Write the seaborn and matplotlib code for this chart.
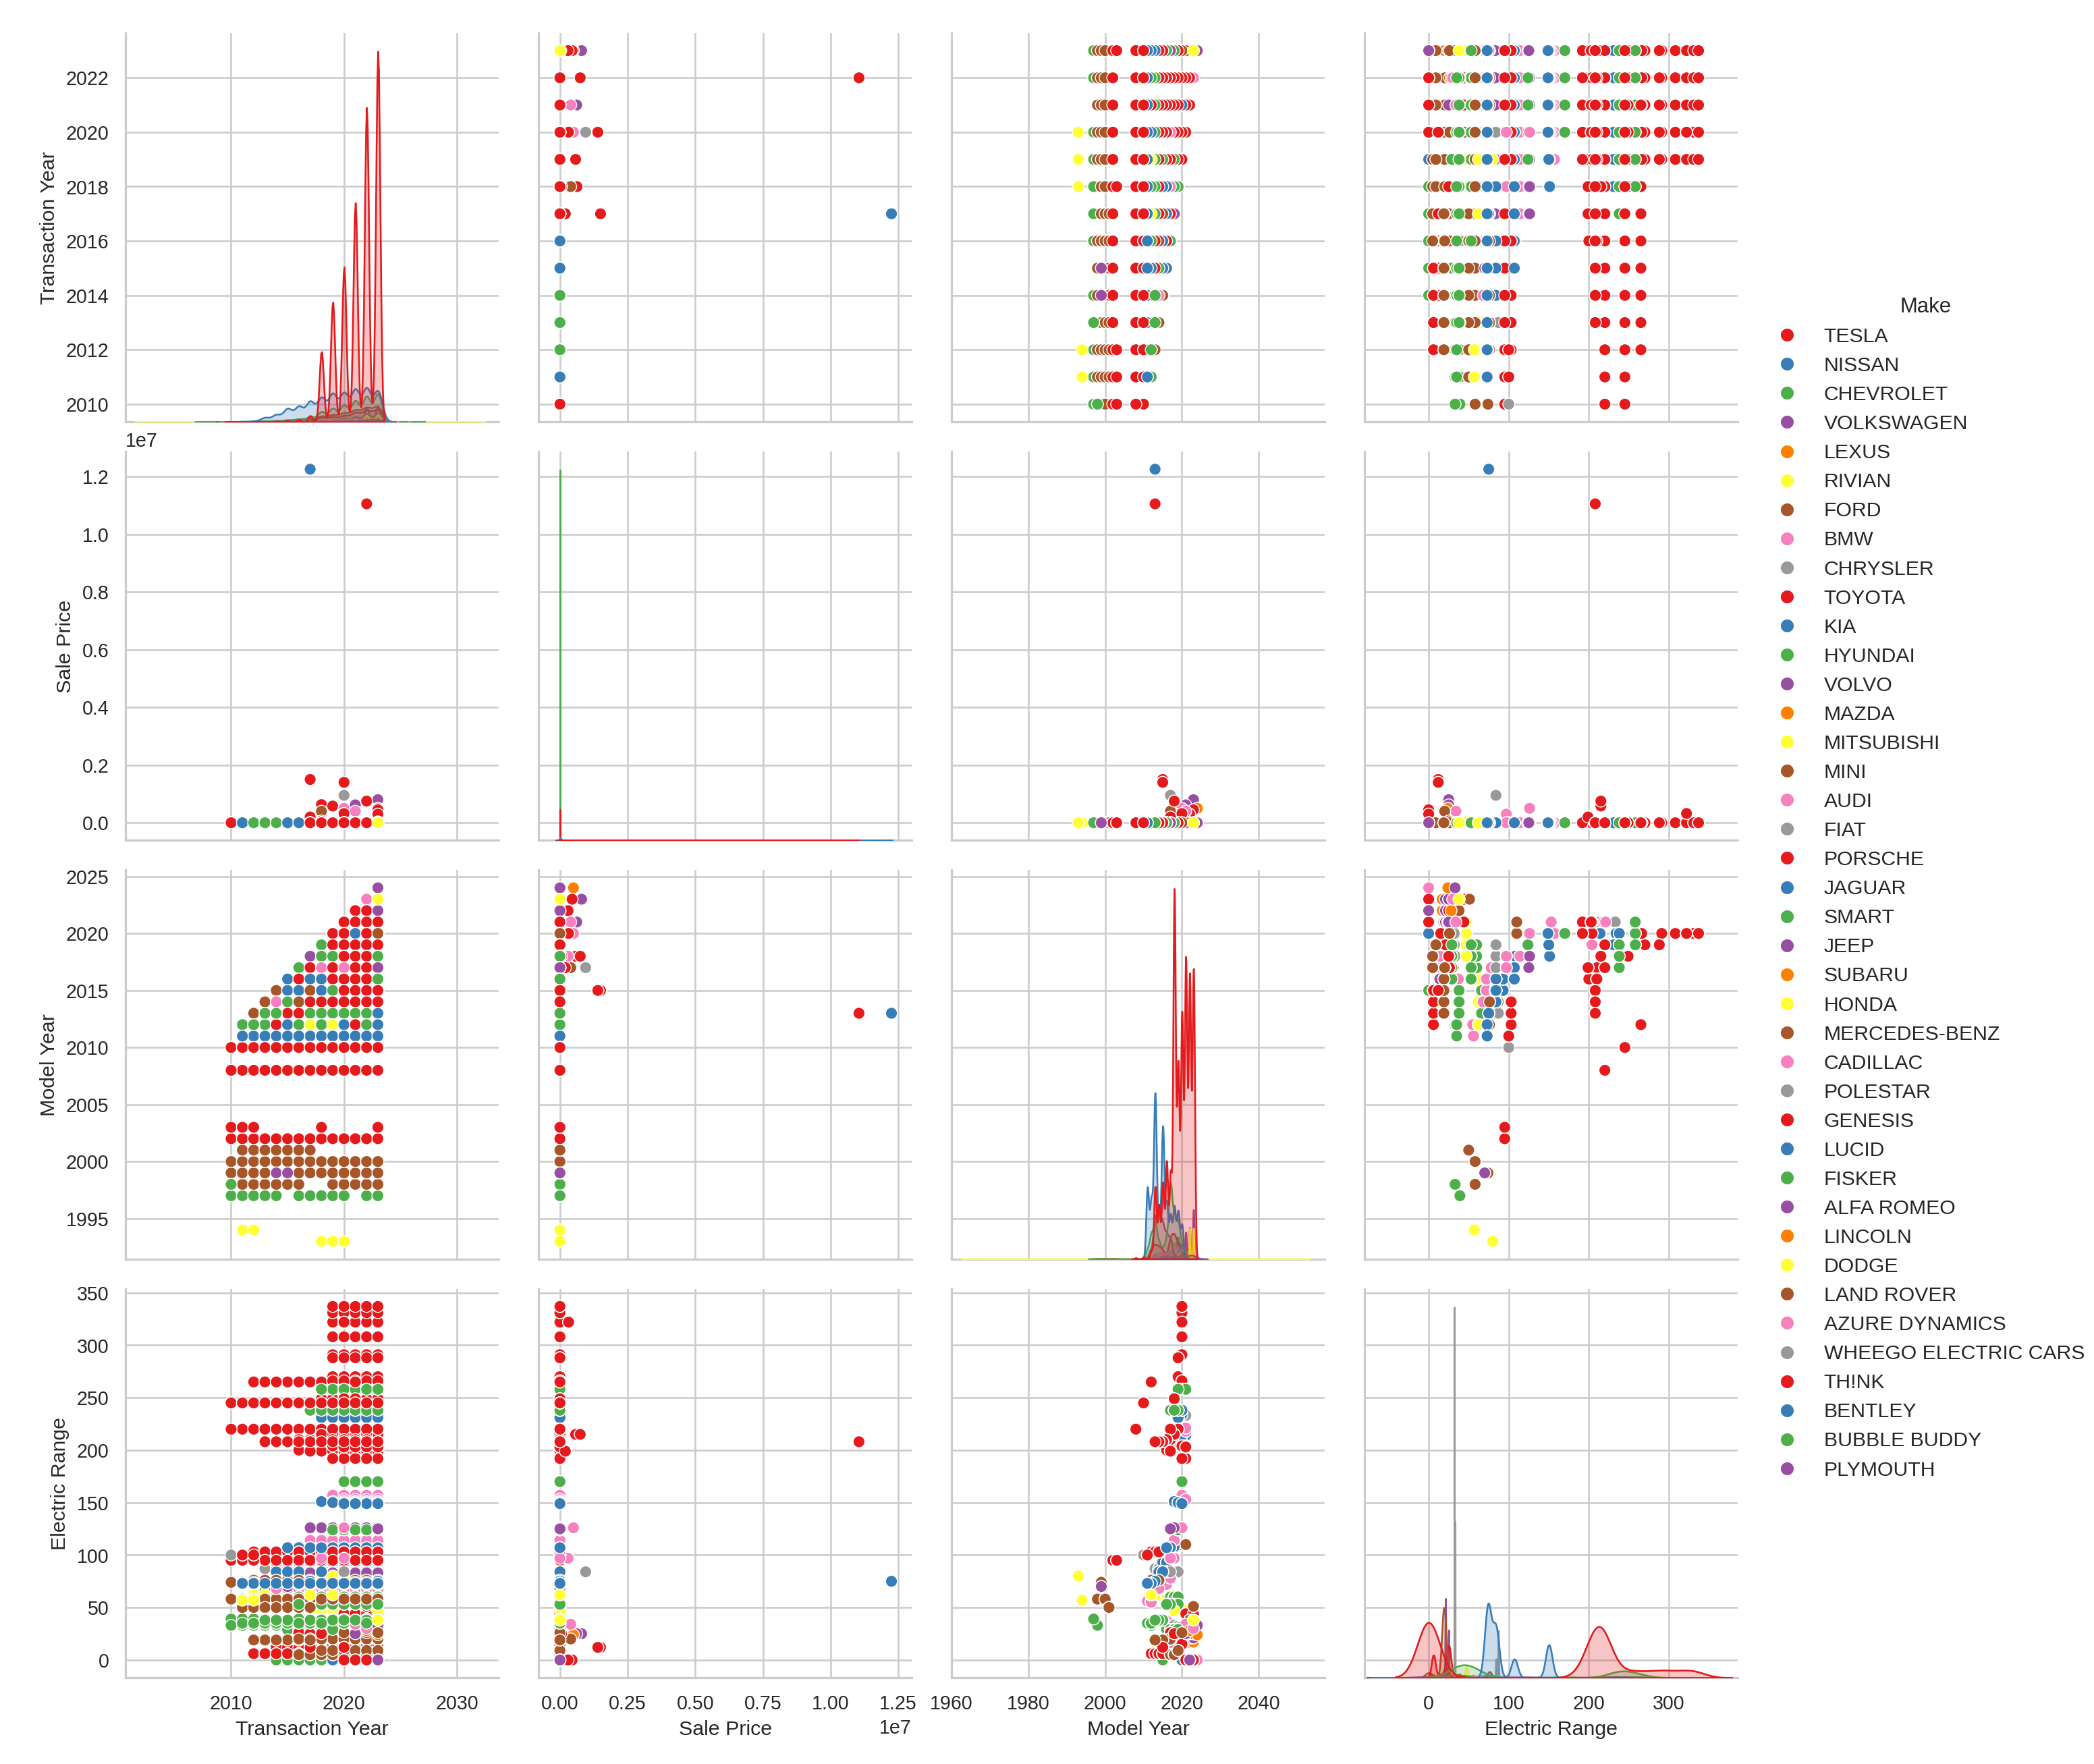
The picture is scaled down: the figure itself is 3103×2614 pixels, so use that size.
import matplotlib
matplotlib.use('Agg')
import pandas as pd
import matplotlib.pyplot as plt
import seaborn as sns

sns.set_theme(style='whitegrid', font='Liberation Sans')

# Order of the makes in the legend (Set1 cycles through them)
makes = ['TESLA', 'NISSAN', 'CHEVROLET', 'VOLKSWAGEN', 'LEXUS', 'RIVIAN', 'FORD', 'BMW', 'CHRYSLER',
         'TOYOTA', 'KIA', 'HYUNDAI', 'VOLVO', 'MAZDA', 'MITSUBISHI', 'MINI', 'AUDI', 'FIAT',
         'PORSCHE', 'JAGUAR', 'SMART', 'JEEP', 'SUBARU', 'HONDA', 'MERCEDES-BENZ', 'CADILLAC', 'POLESTAR',
         'GENESIS', 'LUCID', 'FISKER', 'ALFA ROMEO', 'LINCOLN', 'DODGE', 'LAND ROVER', 'AZURE DYNAMICS',
         'WHEEGO ELECTRIC CARS', 'TH!NK', 'BENTLEY', 'BUBBLE BUDDY', 'PLYMOUTH']

tx_years = [2010, 2011, 2012, 2013, 2014, 2015, 2016, 2017, 2018, 2019, 2020, 2021, 2022, 2023]
tesla_tx = [1, 1, 3, 40, 60, 80, 100, 220, 1300, 1300, 1250, 1350, 1440, 1700]
nissan_tx = [2, 20, 25, 55, 80, 90, 105, 125, 130, 135, 125, 140, 145, 135]
other_tx = [1, 2, 4, 8, 12, 15, 20, 30, 40, 50, 60, 75, 90, 100]
row_scale = 6

# (model year, electric range, relative count, first transaction year)
tesla = [(2008, 220, 3, 2010), (2010, 245, 3, 2010), (2012, 265, 30, 2012), (2013, 208, 270, 2013),
         (2014, 208, 200, 2014), (2015, 208, 285, 2015), (2016, 200, 180, 2016), (2016, 210, 185, 2016),
         (2017, 199, 110, 2017), (2017, 210, 110, 2017), (2017, 220, 100, 2017), (2018, 215, 1150, 2018),
         (2018, 249, 230, 2018), (2019, 220, 560, 2019), (2019, 270, 90, 2019), (2019, 288, 80, 2019),
         (2020, 291, 210, 2019), (2020, 308, 150, 2019), (2020, 322, 170, 2019), (2020, 331, 100, 2019),
         (2020, 337, 120, 2019), (2020, 266, 100, 2019), (2020, 204, 40, 2019), (2020, 192, 30, 2019),
         (2021, 0, 1080, 2020), (2021, 192, 20, 2020), (2021, 203, 20, 2020), (2022, 0, 1055, 2021),
         (2023, 0, 1085, 2022)]
nissan = [(2011, 73, 300, 2011), (2012, 73, 245, 2012), (2013, 75, 700, 2013), (2014, 84, 165, 2014),
          (2015, 84, 560, 2015), (2016, 84, 100, 2015), (2016, 107, 130, 2015), (2017, 107, 185, 2017),
          (2018, 151, 220, 2018), (2019, 150, 200, 2019), (2020, 149, 145, 2020)]
chevrolet = [(2011, 35, 50, 2011), (2012, 35, 120, 2011), (2013, 38, 180, 2012), (2014, 38, 80, 2013),
             (2015, 38, 50, 2014), (2016, 53, 100, 2015), (2017, 53, 175, 2016), (2017, 238, 200, 2017),
             (2018, 53, 100, 2018), (2018, 238, 100, 2018), (2019, 53, 90, 2018), (2019, 238, 30, 2018),
             (2019, 258, 60, 2018), (2020, 258, 80, 2019), (2021, 258, 40, 2020)]
volkswagen = [(2015, 83, 15, 2015), (2017, 125, 12, 2017), (2018, 126, 15, 2017), (2022, 0, 25, 2021),
              (2023, 0, 20, 2022), (2024, 33, 4, 2023)]
lexus = [(2022, 37, 2, 2021), (2023, 37, 3, 2022)]
rivian = [(2022, 0, 50, 2021), (2023, 0, 50, 2022)]
ford = [(2012, 76, 40, 2012), (2013, 19, 200, 2012), (2014, 19, 220, 2013), (2014, 76, 25, 2013),
        (2015, 19, 170, 2014), (2016, 19, 120, 2015), (2017, 20, 90, 2016), (2017, 5, 15, 2016),
        (2018, 5, 12, 2017), (2019, 9, 8, 2018), (2020, 26, 20, 2020), (2022, 38, 40, 2021),
        (2023, 51, 5, 2022)]
bmw = [(2014, 68, 35, 2014), (2015, 72, 25, 2015), (2016, 72, 25, 2015), (2017, 78, 20, 2017),
       (2017, 97, 20, 2016), (2018, 97, 20, 2017), (2018, 14, 25, 2017), (2018, 114, 15, 2017),
       (2019, 204, 8, 2018), (2020, 126, 8, 2019), (2020, 157, 5, 2019), (2021, 34, 10, 2020),
       (2021, 153, 4, 2020), (2023, 30, 10, 2022), (2024, 0, 6, 2023)]
chrysler = [(2018, 33, 70, 2017), (2019, 32, 50, 2018), (2020, 32, 41, 2019), (2021, 32, 33, 2020),
            (2022, 32, 25, 2021), (2023, 32, 17, 2022)]
toyota = [(2012, 6, 60, 2012), (2012, 103, 1, 2012), (2013, 6, 70, 2012), (2013, 103, 1, 2012),
          (2014, 6, 60, 2013), (2014, 103, 1, 2014), (2015, 6, 50, 2014), (2017, 26, 120, 2016),
          (2018, 25, 120, 2017), (2019, 21, 70, 2018), (2020, 15, 30, 2019), (2021, 44, 10, 2020),
          (2022, 25, 80, 2021), (2023, 44, 10, 2022)]
kia = [(2015, 93, 15, 2014), (2016, 93, 12, 2015), (2017, 108, 6, 2016), (2018, 108, 8, 2017),
       (2019, 231, 35, 2018), (2020, 238, 45, 2019), (2020, 0, 40, 2019), (2023, 32, 25, 2022)]
hyundai = [(2016, 29, 15, 2015), (2017, 29, 20, 2016), (2018, 29, 25, 2017), (2017, 60, 15, 2016),
           (2018, 60, 15, 2017), (2019, 60, 12, 2018), (2019, 124, 15, 2019), (2019, 29, 25, 2018),
           (2019, 258, 50, 2018), (2020, 170, 45, 2020), (2021, 29, 30, 2020), (2022, 32, 25, 2021),
           (2023, 38, 30, 2022)]
volvo = [(2016, 14, 10, 2015), (2018, 14, 18, 2017), (2019, 18, 15, 2018), (2021, 25, 12, 2020),
         (2023, 33, 6, 2022)]
mazda = [(2022, 26, 3, 2021), (2023, 26, 3, 2022)]
mitsubishi = [(2012, 62, 10, 2012), (2014, 62, 8, 2013), (2016, 62, 5, 2015), (2017, 62, 4, 2016),
              (2018, 24, 15, 2017), (2019, 24, 10, 2018), (2021, 24, 8, 2020), (2022, 38, 10, 2021),
              (2023, 38, 15, 2022)]
mini = [(2018, 12, 6, 2017), (2019, 12, 8, 2018), (2020, 110, 6, 2019), (2021, 110, 6, 2020),
        (2022, 38, 2, 2021)]
audi = [(2016, 16, 10, 2015), (2017, 16, 10, 2016), (2018, 16, 10, 2017), (2019, 204, 6, 2018),
        (2021, 218, 8, 2020), (2021, 221, 5, 2020), (2020, 20, 6, 2019)]
fiat = [(2013, 87, 22, 2013), (2014, 87, 27, 2014), (2015, 87, 25, 2015), (2016, 84, 8, 2015),
        (2017, 84, 8, 2016), (2018, 84, 7, 2017), (2019, 84, 6, 2018)]
porsche = [(2015, 12, 8, 2014), (2018, 14, 10, 2017), (2019, 14, 10, 2018), (2020, 203, 8, 2019),
           (2021, 204, 6, 2020)]
jaguar = [(2019, 234, 8, 2018), (2020, 234, 5, 2019)]
smart = [(2013, 66, 5, 2013), (2014, 66, 8, 2014), (2015, 66, 6, 2014), (2015, 0, 4, 2014),
         (2016, 58, 4, 2015), (2017, 58, 3, 2016)]
jeep = [(2021, 21, 60, 2020), (2022, 21, 70, 2021), (2023, 21, 20, 2022), (2023, 25, 90, 2022)]
subaru = [(2022, 17, 2, 2021), (2023, 17, 2, 2022), (2024, 24, 1, 2023)]
honda = [(2014, 13, 1, 2014), (2018, 47, 22, 2017), (2019, 47, 20, 2018), (2020, 47, 16, 2019),
         (2021, 47, 14, 2020)]
mercedes = [(2014, 87, 3, 2014), (2015, 19, 4, 2015), (2017, 9, 5, 2016), (2019, 9, 6, 2018),
            (2021, 0, 30, 2020), (2022, 0, 30, 2021), (2023, 0, 25, 2022)]
cadillac = [(2014, 37, 5, 2014), (2016, 37, 3, 2015), (2017, 31, 3, 2016), (2018, 31, 3, 2017)]
polestar = [(2021, 233, 6, 2020)]
genesis = [(2023, 25, 2, 2022), (2023, 0, 2, 2022)]
lucid = [(2021, 214, 2, 2020), (2020, 214, 2, 2019)]
fisker = [(2012, 33, 8, 2011)]
alfa_romeo = [(2023, 33, 2, 2022), (2024, 33, 1, 2023)]
lincoln = [(2020, 21, 2, 2019), (2021, 28, 2, 2020), (2022, 28, 1, 2021)]
land_rover = [(2019, 19, 2, 2018), (2021, 19, 2, 2020), (2023, 51, 1, 2022)]
azure = [(2011, 56, 2, 2011), (2012, 55, 2, 2012)]
bentley = [(2020, 19, 1, 2019), (2021, 18, 1, 2020)]

# rows read one by one: (make, transaction year, sale price, model year, electric range)
single_rows = [('TESLA', 2022, 11050000, 2013, 208), ('NISSAN', 2017, 12250000, 2013, 75),
               ('PORSCHE', 2017, 1500000, 2015, 12), ('PORSCHE', 2020, 1400000, 2015, 12),
               ('FIAT', 2020, 950000, 2017, 84), ('JEEP', 2023, 800000, 2023, 25),
               ('TESLA', 2022, 750000, 2018, 215), ('VOLVO', 2021, 620000, 2021, 25),
               ('TESLA', 2018, 630000, 2018, 215), ('TESLA', 2019, 580000, 2018, 215),
               ('BMW', 2020, 500000, 2020, 126), ('SUBARU', 2023, 500000, 2024, 24),
               ('TESLA', 2023, 450000, 2023, 0), ('TESLA', 2020, 320000, 2020, 322),
               ('TESLA', 2023, 300000, 2022, 0), ('TESLA', 2017, 200000, 2017, 199),
               ('BMW', 2021, 400000, 2021, 34), ('BMW', 2018, 300000, 2018, 97),
               ('LAND ROVER', 2018, 400000, 2017, 20), ('HYUNDAI', 2019, 10000, 2019, 29),
               ('HONDA', 2023, 30000, 2018, 47), ('BUBBLE BUDDY', 2010, 0, 1998, 33),
               ('BUBBLE BUDDY', 2013, 0, 1997, 39), ('LINCOLN', 2022, 0, 2022, 28),
               ('WHEEGO ELECTRIC CARS', 2010, 0, 2010, 100), ('WHEEGO ELECTRIC CARS', 2011, 0, 2011, 100),
               ('WHEEGO ELECTRIC CARS', 2012, 0, 2011, 100), ('TH!NK', 2011, 0, 2011, 100),
               ('TH!NK', 2012, 0, 2011, 100), ('DODGE', 2023, 0, 2023, 38), ('PLYMOUTH', 2014, 0, 1999, 70),
               ('PLYMOUTH', 2015, 0, 1999, 70)]

# sales with a small price: (make, transaction year, sale price, model year, electric range, how many)
priced_rows = [('TOYOTA', 2018, 60000, 2018, 25, 55)]

# old cars: (make, model year, electric range, transaction years)
old_cars = [('CHEVROLET', 1997, 39, [2010, 2011, 2012, 2013, 2014, 2016, 2017, 2018, 2019, 2020, 2022, 2023]),
            ('FORD', 1998, 58, [2010, 2011, 2012, 2013, 2014, 2015, 2016, 2019, 2020, 2021, 2022, 2023]),
            ('FORD', 1999, 74, [2010, 2011, 2012, 2013, 2016, 2017, 2018, 2019, 2020, 2021, 2022, 2023]),
            ('FORD', 2000, 58, tx_years),
            ('FORD', 2001, 50, [2011, 2012, 2013, 2014, 2015, 2016, 2017]),
            ('TOYOTA', 2002, 95, tx_years),
            ('TOYOTA', 2003, 95, [2010, 2011, 2012, 2018, 2023]),
            ('DODGE', 1994, 57, [2011, 2012]),
            ('DODGE', 1993, 80, [2018, 2019, 2020])]

# colour seen on top of the model year / transaction year grid, starting at the first year listed
top_cells = [(2024, 2023, 'p'), (2023, 2022, 'ky'), (2022, 2021, 'rrp'), (2021, 2020, 'rrrr'),
             (2020, 2019, 'rrbrn'), (2019, 2018, 'grrrrr'), (2018, 2017, 'pggrrrg'),
             (2017, 2016, 'grkrkrrp'), (2016, 2015, 'brbbrrrrg'), (2015, 2014, 'nbbnbgrrrr'),
             (2014, 2013, 'nkgnrrrrrrr'), (2013, 2012, 'nggrrggggggb'), (2012, 2011, 'gggrbgygybrgb'),
             (2011, 2011, 'bbbbbbbbbbbbb'), (2010, 2010, 'rrrrrrrrrrrrrr')]
colour_letters = 'rbgpoynka'

# seen on top at sale price 0: (make, transaction year, model year, electric range)
zero_price_top = [('TESLA', 2010, 2008, 220), ('NISSAN', 2011, 2011, 73), ('CHEVROLET', 2012, 2012, 35),
                  ('CHEVROLET', 2013, 2013, 38), ('CHEVROLET', 2014, 2013, 38), ('NISSAN', 2015, 2011, 73),
                  ('NISSAN', 2016, 2011, 73), ('TESLA', 2017, 2010, 245), ('TESLA', 2018, 2010, 245),
                  ('TESLA', 2019, 2010, 245), ('TESLA', 2020, 2010, 245), ('TESLA', 2021, 2010, 245),
                  ('TESLA', 2022, 2010, 245), ('DODGE', 2023, 2023, 38)]

records = {'PLYMOUTH': [], 'BENTLEY': bentley, 'AZURE DYNAMICS': azure, 'LAND ROVER': land_rover,
           'LINCOLN': lincoln, 'ALFA ROMEO': alfa_romeo, 'FISKER': fisker, 'LUCID': lucid,
           'GENESIS': genesis, 'POLESTAR': polestar, 'CADILLAC': cadillac, 'MERCEDES-BENZ': mercedes,
           'HONDA': honda, 'SUBARU': subaru, 'JEEP': jeep, 'SMART': smart, 'JAGUAR': jaguar,
           'FIAT': fiat, 'AUDI': audi, 'MINI': mini, 'MITSUBISHI': mitsubishi, 'MAZDA': mazda,
           'VOLVO': volvo, 'CHRYSLER': chrysler, 'LEXUS': lexus, 'RIVIAN': rivian, 'KIA': kia,
           'PORSCHE': porsche, 'BMW': bmw, 'NISSAN': nissan, 'VOLKSWAGEN': volkswagen, 'HYUNDAI': hyundai,
           'TOYOTA': toyota, 'FORD': ford, 'TESLA': tesla, 'CHEVROLET': chevrolet}

rows = []
for make, make_records in records.items():
    weights = tesla_tx if make == 'TESLA' else nissan_tx if make == 'NISSAN' else other_tx
    for model, rng, weight, first in make_records:
        allowed = [i for i, y in enumerate(tx_years) if y >= first]
        total = sum(weights[i] for i in allowed)
        for i in allowed:
            count = max(1, round(weight * row_scale * weights[i] / total))
            rows.append((make, tx_years[i], 0, model, rng, count))

for make, model, rng, years in old_cars:
    for y in years:
        rows.append((make, y, 0, model, rng, 1))
for make, y, price, model, rng in single_rows:
    rows.append((make, y, price, model, rng, 1))
rows.extend(priced_rows)

# repeat the row already there so that the colour seen in the grid comes last
top_rows = []
for model, start, letters in top_cells:
    for k, letter in enumerate(letters):
        for row in reversed(rows):
            colour = colour_letters[makes.index(row[0]) % 9]
            if row[3] == model and row[1] == start + k and colour == letter:
                top_rows.append((row[0], row[1], row[2], row[3], row[4], 1))
                break
rows = rows + top_rows
for make, y, model, rng in zero_price_top:
    rows.append((make, y, 0, model, rng, 1))

df_marks = pd.DataFrame(rows, columns=['Make', 'Transaction Year', 'Sale Price', 'Model Year', 'Electric Range', 'count'])
# every sale counted for the density curves, one row per distinct point for the scatters
df_full = df_marks.loc[df_marks.index.repeat(df_marks['count'])].reset_index(drop=True)

cols = ['Transaction Year', 'Sale Price', 'Model Year', 'Electric Range']
g = sns.PairGrid(df_full, vars=cols, hue='Make', hue_order=makes, palette='Set1', height=3.3, diag_sharey=False)
g.map_diag(sns.kdeplot, fill=True, warn_singular=False)
g.data = df_marks
g.map_offdiag(sns.scatterplot, s=46)
g.add_legend(title='Make', fontsize=11.6, labelspacing=0.5)
for handle in g.legend.legend_handles:
    handle.set_markersize(7.9)

g.axes[3, 0].set_xlim(2000.65, 2033.7)
g.axes[3, 1].set_xlim(-0.079e7, 1.30e7)
g.axes[3, 2].set_xlim(1960, 2057.2)
g.axes[3, 3].set_xlim(-80, 386)

for ax in g.axes[3, :]:
    ax.xaxis.label.set_fontsize(11.7)
for ax in g.axes[:, 0]:
    ax.yaxis.label.set_fontsize(11.7)

dpi = 187
g.figure.set_size_inches(3103.2 / dpi, 2614.2 / dpi)
g.figure.subplots_adjust(left=186 / 3103, right=2575 / 3103, top=1 - 49 / 2614, bottom=1 - 2486 / 2614,
                         wspace=59 / 553, hspace=44 / 576)
g.legend.set_bbox_to_anchor((3116 / 3103, 0.4965), transform=g.figure.transFigure)

plt.savefig('out.png', dpi=dpi)
